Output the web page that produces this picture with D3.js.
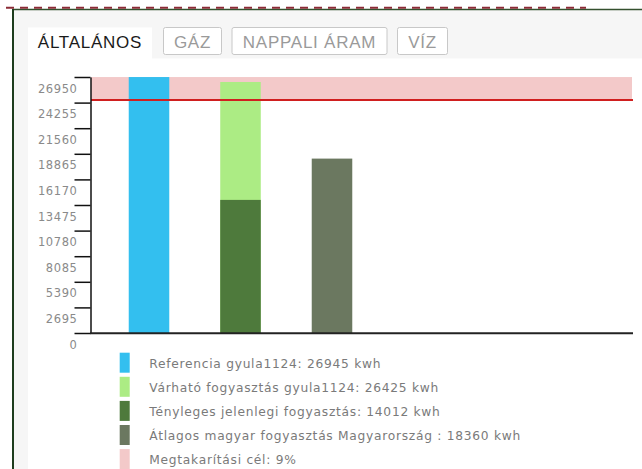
<!DOCTYPE html>
<html>
<head>
<meta charset="utf-8">
<script src="https://cdn.jsdelivr.net/npm/d3@7"></script>
<style>
  html, body { margin: 0; padding: 0; background: #fff; }
  svg { display: block; }
</style>
</head>
<body>
<svg id="chart" width="642" height="469"></svg>
<script>
// ---- data ----
const tabs = ["ÁLTALÁNOS", "GÁZ", "NAPPALI ÁRAM", "VÍZ"];
const categories = ["Referencia", "Várható", "Átlagos"];
const referencia = 26945;
const varhato = 26425;
const tenyleges = 14012;
const atlagos = 18360;
const savingPct = 9;
const yTicks = [0, 2695, 5390, 8085, 10780, 13475, 16170, 18865, 21560, 24255, 26950];
const legendLabels = [
  "Referencia gyula1124: 26945 kwh",
  "Várható fogyasztás gyula1124: 26425 kwh",
  "Tényleges jelenlegi fogyasztás: 14012 kwh",
  "Átlagos magyar fogyasztás Magyarország : 18360 kwh",
  "Megtakarítási cél: 9%"
];
const colors = ["#33bfef", "#acec84", "#4e7a3c", "#6b7860", "#f3c9c9"];

// ---- drawing ----
const svg = d3.select("#chart");

// panel background
svg.append("rect").attr("x", 14).attr("y", 10).attr("width", 628).attr("height", 459).attr("fill", "#f6f6f6");
// content area
svg.append("rect").attr("x", 28).attr("y", 58.5).attr("width", 614).attr("height", 411).attr("fill", "#ffffff");

// frame lines
svg.append("line").attr("x1", 12).attr("x2", 642).attr("y1", 9.5).attr("y2", 9.5)
  .attr("stroke", "#34502e").attr("stroke-width", 1.5);
svg.append("line").attr("x1", 13).attr("x2", 13).attr("y1", 9).attr("y2", 469)
  .attr("stroke", "#1e3d1e").attr("stroke-width", 2);
svg.append("line").attr("x1", 6).attr("x2", 586).attr("y1", 7.8).attr("y2", 7.8)
  .attr("stroke", "#8b2b36").attr("stroke-width", 2).attr("stroke-dasharray", "8,6");

// tabs
const tabBoxes = [
  {x: 28, w: 124, active: true},
  {x: 163.5, w: 58, active: false},
  {x: 232, w: 155, active: false},
  {x: 397.5, w: 50, active: false}
];
const tabG = svg.append("g");
tabs.forEach((t, i) => {
  const b = tabBoxes[i];
  if (b.active) {
    tabG.append("rect").attr("x", b.x).attr("y", 27.5).attr("width", b.w).attr("height", 32)
      .attr("fill", "#ffffff");
  } else {
    tabG.append("rect").attr("x", b.x).attr("y", 27.5).attr("width", b.w).attr("height", 27)
      .attr("rx", 2).attr("fill", "#ffffff").attr("stroke", "#c8c8c8").attr("stroke-width", 1);
  }
  tabG.append("text")
    .attr("x", b.x + b.w / 2).attr("y", 47.5)
    .attr("text-anchor", "middle")
    .attr("font-family", "Liberation Sans, Arial, sans-serif")
    .attr("font-size", 17)
    .attr("letter-spacing", 0.75)
    .attr("fill", b.active ? "#1a1a1a" : "#9a9a9a")
    .text(t);
});

// scales
const y = d3.scaleLinear().domain([0, 26950]).range([333, 77]);
const step = 91.5;
const x = d3.scaleBand().domain(categories)
  .range([103.25, 103.25 + step * categories.length])
  .paddingInner(0.557).paddingOuter(0.2785);

const plotRight = 633;

// saving band
const target = referencia * (1 - savingPct / 100);
svg.append("rect")
  .attr("x", 91).attr("width", plotRight - 92)
  .attr("y", y(referencia)).attr("height", y(target) - y(referencia))
  .attr("fill", colors[4]);

// bars
const bars = [
  {cat: "Referencia", v: referencia, c: colors[0]},
  {cat: "Várható", v: varhato, c: colors[1]},
  {cat: "Várható", v: tenyleges, c: colors[2]},
  {cat: "Átlagos", v: atlagos, c: colors[3]}
];
svg.append("g").selectAll("rect").data(bars).join("rect")
  .attr("x", d => x(d.cat)).attr("width", x.bandwidth())
  .attr("y", d => y(d.v)).attr("height", d => y(0) - y(d.v))
  .attr("fill", d => d.c);

// target line
svg.append("line").attr("x1", 91).attr("x2", plotRight).attr("y1", y(target)).attr("y2", y(target))
  .attr("stroke", "#d01f1f").attr("stroke-width", 2);

// y axis
const yAxis = d3.axisLeft(y).tickValues(yTicks).tickSize(16).tickSizeOuter(0).tickPadding(-3)
  .tickFormat(d3.format("d"));
const gy = svg.append("g").attr("transform", "translate(90.5,0)").call(yAxis);
gy.select(".domain").attr("stroke", "#111").attr("stroke-width", 1.5);
gy.selectAll(".tick line").attr("stroke", "#111").attr("stroke-width", 1.5);
gy.selectAll(".tick text")
  .attr("y", 11.5)
  .attr("fill", "#8a8a8a")
  .attr("font-family", "DejaVu Sans, Verdana, sans-serif")
  .attr("font-size", 11.5)
  .attr("letter-spacing", 0.6);

// x axis line
svg.append("line").attr("x1", 90).attr("x2", plotRight).attr("y1", 333.3).attr("y2", 333.3)
  .attr("stroke", "#222").attr("stroke-width", 2);

// legend
const lg = svg.append("g");
legendLabels.forEach((l, i) => {
  const yy = 352.7 + i * 24.1;
  lg.append("rect").attr("x", 119.7).attr("y", yy).attr("width", 10).attr("height", 20).attr("fill", colors[i]);
  lg.append("text").attr("x", 149.3).attr("y", yy + 11)
    .attr("dominant-baseline", "central")
    .attr("font-family", "DejaVu Sans, Verdana, sans-serif")
    .attr("font-size", 12.25).attr("letter-spacing", 0.72)
    .attr("fill", "#7a7a7a")
    .text(l);
});
</script>
</body>
</html>
